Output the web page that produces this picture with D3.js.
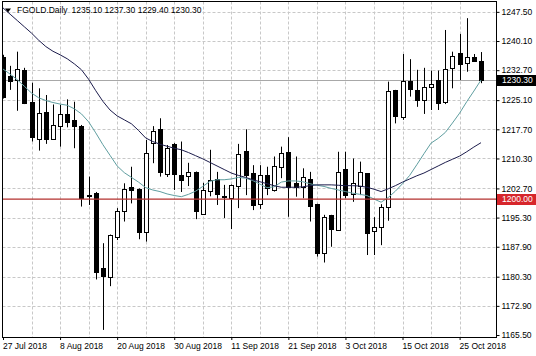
<!DOCTYPE html>
<html><head><meta charset="utf-8">
<script src="https://cdn.jsdelivr.net/npm/d3@7"></script>
<style>html,body{margin:0;padding:0;background:#fff;}svg{display:block;}</style>
</head><body>
<svg id="chart" width="536" height="356"></svg>
<script>
const dates = ["2018-07-27","2018-07-30","2018-07-31","2018-08-01","2018-08-02","2018-08-03","2018-08-06","2018-08-07",
"2018-08-08","2018-08-09","2018-08-10","2018-08-13","2018-08-14","2018-08-15","2018-08-16","2018-08-17",
"2018-08-20","2018-08-21","2018-08-22","2018-08-23","2018-08-24","2018-08-27","2018-08-28","2018-08-29",
"2018-08-30","2018-08-31","2018-09-03","2018-09-04","2018-09-05","2018-09-06","2018-09-07","2018-09-10",
"2018-09-11","2018-09-12","2018-09-13","2018-09-14","2018-09-17","2018-09-18","2018-09-19","2018-09-20",
"2018-09-21","2018-09-24","2018-09-25","2018-09-26","2018-09-27","2018-09-28","2018-10-01","2018-10-02",
"2018-10-03","2018-10-04","2018-10-05","2018-10-08","2018-10-09","2018-10-10","2018-10-11","2018-10-12",
"2018-10-15","2018-10-16","2018-10-17","2018-10-18","2018-10-19","2018-10-22","2018-10-23","2018-10-24",
"2018-10-25","2018-10-26","2018-10-29","2018-10-30"];

const open  = [1236.1,1231.2,1230.2,1232.8,1224.6,1215.2,1222.2,1215.3,1218.6,1221.6,1220.1,1218.5,1200.9,1201.6,1182.4,1180.3,
1190.3,1197.0,1203.1,1202.5,1191.7,1214.2,1217.7,1206.4,1214.0,1206.1,1205.9,1206.9,1196.3,1202.1,1205.0,1200.6,
1200.2,1203.3,1212.3,1206.7,1198.7,1206.1,1202.3,1208.2,1212.0,1204.0,1203.0,1205.1,1198.7,1186.2,1195.9,1192.2,
1207.6,1201.2,1203.3,1206.5,1192.0,1192.8,1198.1,1227.6,1220.7,1230.0,1227.7,1225.1,1228.5,1230.2,1224.7,1233.2,
1237.1,1234.5,1236.1,1235.1];
const high  = [1236.6,1233.8,1237.4,1233.3,1229.5,1228.1,1226.4,1224.0,1223.9,1225.3,1224.7,1218.8,1205.7,1201.8,1188.8,1191.0,
1197.7,1204.0,1208.2,1202.7,1215.0,1218.5,1220.5,1213.7,1214.2,1214.6,1209.2,1207.0,1204.1,1212.5,1206.9,1203.6,
1203.7,1214.0,1217.7,1208.6,1208.6,1208.2,1210.8,1213.3,1215.7,1210.8,1207.8,1206.9,1198.8,1196.0,1196.0,1212.0,
1212.0,1210.3,1209.5,1206.6,1195.4,1198.7,1229.8,1227.7,1236.8,1235.5,1232.8,1233.3,1232.6,1232.6,1242.9,1237.4,
1241.9,1245.9,1236.8,1237.3];
const low   = [1225.5,1227.7,1222.4,1224.1,1214.6,1212.3,1214.0,1215.0,1213.3,1218.2,1212.9,1198.1,1198.5,1179.6,1166.8,1177.9,
1189.6,1194.3,1198.9,1189.8,1189.2,1209.1,1205.7,1205.6,1202.3,1201.8,1203.3,1194.9,1196.0,1200.7,1198.5,1195.2,
1192.4,1197.7,1201.0,1197.2,1197.5,1201.0,1201.9,1205.3,1195.5,1200.6,1200.2,1194.3,1185.4,1183.9,1187.9,1192.1,
1200.2,1199.3,1201.0,1185.8,1185.8,1188.3,1194.5,1219.2,1220.1,1226.0,1223.4,1221.6,1222.6,1222.6,1224.1,1228.1,
1230.2,1232.3,1234.9,1229.4];
const close = [1226.0,1230.0,1232.9,1224.3,1215.8,1221.8,1215.2,1218.7,1221.6,1219.6,1218.6,1200.2,1201.0,1181.6,1180.6,1190.9,
1197.0,1202.6,1202.3,1191.7,1211.8,1217.3,1206.9,1213.0,1206.4,1204.8,1206.9,1197.0,1202.2,1204.9,1201.3,1200.7,
1203.6,1211.4,1206.1,1198.5,1206.0,1202.7,1208.4,1211.6,1203.0,1203.0,1205.5,1198.2,1186.2,1195.4,1192.4,1206.9,
1201.0,1204.0,1206.8,1191.3,1193.0,1197.9,1227.5,1221.1,1230.0,1227.9,1225.1,1228.5,1229.1,1224.5,1232.9,1236.3,
1234.2,1236.0,1235.1,1230.3];

const maSlow = [1248.5,1246.9,1245.3,1243.7,1242.1,1240.3,1238.7,1237.5,1236.6,1235.6,1234.3,1232.8,1230.4,1227.5,1224.8,1222.6,
1221.1,1220.1,1219.1,1217.4,1215.5,1214.6,1213.9,1213.4,1212.9,1212.5,1211.8,1211.0,1210.2,1209.3,1208.4,1207.5,
1206.6,1206.0,1205.5,1204.9,1204.4,1203.9,1203.4,1203.0,1203.0,1203.0,1203.1,1203.4,1203.6,1203.6,1203.6,1203.5,
1203.4,1203.4,1203.3,1203.0,1202.5,1201.9,1202.6,1203.4,1204.3,1205.1,1205.9,1206.6,1207.5,1208.4,1209.3,1210.1,
1210.9,1212.0,1213.2,1214.3];
const maFast = [1233.0,1231.7,1230.3,1228.6,1226.9,1225.7,1225.0,1224.5,1224.1,1223.8,1222.9,1221.6,1219.6,1216.8,1213.8,1211.1,
1208.4,1206.7,1205.5,1204.3,1202.9,1202.3,1201.9,1201.3,1200.9,1200.6,1201.2,1202.0,1203.2,1204.5,1204.9,1204.9,
1205.1,1205.5,1205.3,1204.7,1203.8,1202.9,1203.1,1204.3,1204.6,1204.6,1204.4,1203.9,1203.5,1203.2,1202.7,1202.3,
1201.9,1201.5,1201.2,1200.9,1200.0,1199.2,1200.4,1202.0,1203.9,1206.0,1208.7,1211.5,1214.2,1215.4,1216.9,1219.3,
1221.8,1224.7,1227.4,1230.2];

const priceTicks = [1247.50,1240.10,1232.70,1225.10,1217.70,1210.30,1202.70,1195.30,1187.90,1180.30,1172.90,1165.50];
const dateTickIdx = [0,8,16,24,32,40,48,56,64];
const dateTickLabels = ["27 Jul 2018","8 Aug 2018","20 Aug 2018","30 Aug 2018","11 Sep 2018","21 Sep 2018","3 Oct 2018","15 Oct 2018","25 Oct 2018"];
const gridIdx = [4,8,12,16,20,24,28,32,36,40,44,48,52,56,60,64];
const levelLine = 1200.00;
const header = {symbol: "FGOLD.Daily", o: 1235.10, h: 1237.30, l: 1229.40, c: 1230.30};

const FONT = "'Liberation Sans', Arial, sans-serif";
const FS = "8.5px";
const L = 2.5, R = 496.5, T = 1.5, B = 337.5;

const svg = d3.select("#chart");
svg.append("rect").attr("width",536).attr("height",356).attr("fill","#fff");

const x = d3.scalePoint().domain(dates).range([3, 481]);
const y = d3.scaleLinear().domain([1165, 1250]).range([337, 2]);
const px = d => Math.round(x(d));

svg.append("defs").append("clipPath").attr("id","plot")
  .append("rect").attr("x",L+0.5).attr("y",T+0.5).attr("width",R-L-1).attr("height",B-T-1);

// grid
const grid = svg.append("g").attr("stroke","#c8c8c8").attr("stroke-width",1).attr("stroke-dasharray","3,2");
grid.selectAll("line.v").data(gridIdx).join("line").attr("class","v")
  .attr("x1",i=>px(dates[i])+0.5).attr("x2",i=>px(dates[i])+0.5).attr("y1",T).attr("y2",B);
grid.selectAll("line.h").data(priceTicks.slice(0,-1)).join("line").attr("class","h")
  .attr("y1",p=>Math.round(y(p))+0.5).attr("y2",p=>Math.round(y(p))+0.5).attr("x1",L).attr("x2",R);

// bid line
svg.append("line").attr("x1",L).attr("x2",R)
  .attr("y1",Math.round(y(header.c))+0.5).attr("y2",Math.round(y(header.c))+0.5)
  .attr("stroke","#a8a8a8").attr("stroke-width",1);

const bars = dates.map((d,i)=>({d, o:open[i], h:high[i], l:low[i], c:close[i]}));
const plot = svg.append("g").attr("clip-path","url(#plot)");

// wicks
plot.append("g").selectAll("line").data(bars).join("line")
  .attr("x1",b=>px(b.d)+0.5).attr("x2",b=>px(b.d)+0.5)
  .attr("y1",b=>y(b.h)).attr("y2",b=>y(b.l))
  .attr("stroke","#000").attr("stroke-width",1);
// bodies
plot.append("g").selectAll("rect").data(bars).join("rect")
  .attr("x",b=>px(b.d)-2+0.5).attr("width",4)
  .attr("y",b=>Math.round(y(Math.max(b.o,b.c)))+0.5)
  .attr("height",b=>Math.max(0, Math.round(y(Math.min(b.o,b.c))) - Math.round(y(Math.max(b.o,b.c)))))
  .attr("fill",b=>b.c>=b.o?"#fff":"#000")
  .attr("stroke","#000").attr("stroke-width",1);

// moving averages
const line = arr => d3.line().x((v,i)=>x(dates[i])).y(v=>y(v))(arr);
plot.append("path").attr("d",line(maFast)).attr("fill","none").attr("stroke","#5f9ea0").attr("stroke-width",1);
plot.append("path").attr("d",line(maSlow)).attr("fill","none").attr("stroke","#1c1c4c").attr("stroke-width",1);

// level line
svg.append("line").attr("x1",L).attr("x2",R)
  .attr("y1",y(levelLine)).attr("y2",y(levelLine))
  .attr("stroke","#b3302e").attr("stroke-width",1.3);

// frame
svg.append("rect").attr("x",L).attr("y",T).attr("width",R-L).attr("height",B-T)
  .attr("fill","none").attr("stroke","#000").attr("stroke-width",1);

// right axis
const ya = svg.append("g").attr("transform",`translate(${R},0)`)
  .call(d3.axisRight(y).tickValues(priceTicks).tickFormat(d3.format(".2f")).tickSize(3).tickPadding(2));
ya.select(".domain").remove();
ya.selectAll("text").attr("font-family",FONT).attr("font-size",FS).attr("fill","#000");
ya.selectAll("line").attr("stroke","#000");

// bottom axis
const xa = svg.append("g").attr("transform",`translate(0,${B-0.5})`)
  .call(d3.axisBottom(x).tickValues(dateTickIdx.map(i=>dates[i]))
    .tickFormat((d)=>dateTickLabels[dateTickIdx.indexOf(dates.indexOf(d))]).tickSize(3).tickPadding(3));
xa.select(".domain").remove();
xa.selectAll("text").attr("font-family",FONT).attr("font-size",FS).attr("fill","#000").attr("text-anchor","start").attr("x",-0.5);
xa.selectAll("line").attr("stroke","#000");

// price tags
function tag(v, bg){
  const yy = y(v);
  svg.append("rect").attr("x",R+0.5).attr("y",Math.round(yy)-5).attr("width",536-R).attr("height",11).attr("fill",bg);
  svg.append("text").attr("x",R+5.5).attr("y",yy).attr("dy","0.35em")
    .attr("font-family",FONT).attr("font-size",FS).attr("fill","#fff").text(d3.format(".2f")(v));
}
tag(levelLine, "#d7262b");
tag(header.c, "#000");

// header
svg.append("path").attr("d","M5,8.5 L11,8.5 L8,12.5 Z").attr("fill","#000");
const f = d3.format(".2f");
svg.append("text").attr("x",17).attr("y",12.8).attr("font-family",FONT).attr("font-size",FS).attr("fill","#000")
  .text(header.symbol);
svg.append("text").attr("x",71.5).attr("y",12.8).attr("font-family",FONT).attr("font-size",FS).attr("fill","#000")
  .text([header.o,header.h,header.l,header.c].map(f).join(" "));
</script>
</body></html>
